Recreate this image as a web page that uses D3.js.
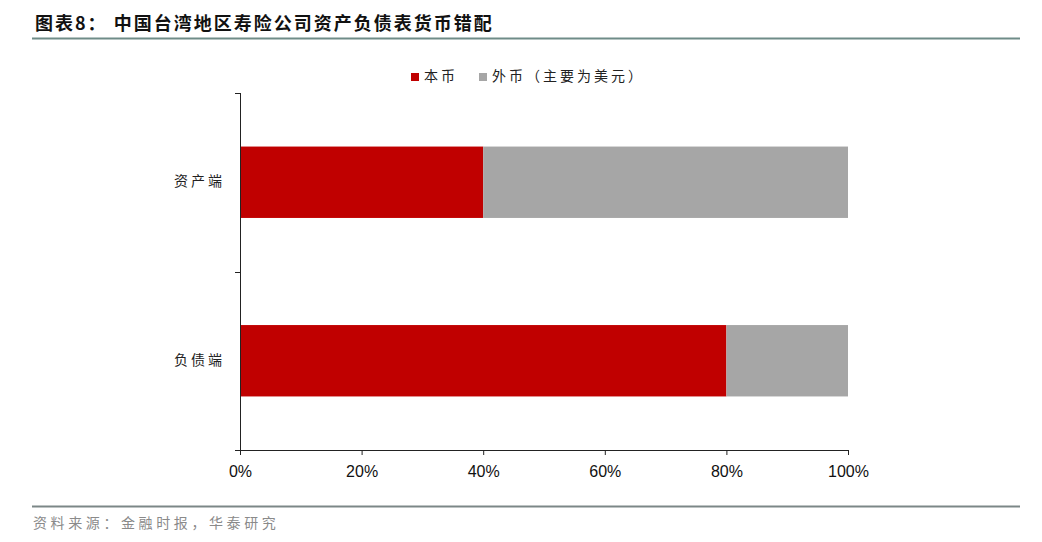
<!DOCTYPE html>
<html>

<head>
    <meta charset="UTF-8">
    <title>资产负债表货币错配</title>
    <script src="https://d3js.org/d3.v7.min.js"></script>
    <style>
        body {
            margin: 0;
            background: #fff;
        }

        .cjk {
            font-family: "Noto Sans CJK SC", sans-serif;
        }

        .title {
            font-size: 18px;
            font-weight: bold;
            letter-spacing: 2px;
            fill: #111;
        }

        .source {
            font-size: 14px;
            letter-spacing: 3.6px;
            fill: #8a8a8a;
        }

        .legend text,
        .cat {
            font-size: 14px;
            letter-spacing: 3px;
            fill: #222;
        }

        .x-axis text {
            font-family: "Liberation Sans Narrow", "Arial Narrow", "Liberation Sans", sans-serif;
            font-size: 16px;
            fill: #111;
        }

        .domain,
        .tick line {
            stroke: #222;
        }
    </style>
</head>

<body>
    <script>
        var categories = ["资产端", "负债端"];
        var seriesNames = ["本币", "外币（主要为美元）"];
        var localShare = [0.40, 0.80];
        var foreignShare = [0.60, 0.20];
        var tickValues = [0, 0.2, 0.4, 0.6, 0.8, 1.0];
        var colors = ["#c00000", "#a6a6a6"];

        var W = 1042, H = 542;
        var svg = d3.select("body").append("svg")
            .attr("width", W).attr("height", H);

        // header and footer
        svg.append("text").attr("class", "cjk title")
            .attr("x", 35).attr("y", 30)
            .text("图表8：  中国台湾地区寿险公司资产负债表货币错配");
        svg.append("line")
            .attr("x1", 32).attr("x2", 1020).attr("y1", 38.5).attr("y2", 38.5)
            .attr("stroke", "#6f8c88").attr("stroke-width", 2);
        svg.append("line")
            .attr("x1", 32).attr("x2", 1020).attr("y1", 506.5).attr("y2", 506.5)
            .attr("stroke", "#7c8787").attr("stroke-width", 2);
        svg.append("text").attr("class", "cjk source")
            .attr("x", 33).attr("y", 528)
            .text("资料来源：金融时报，华泰研究");

        var x = d3.scaleLinear().domain([0, 1]).range([240, 848]);
        var y = d3.scaleBand().domain(categories)
            .range([93, 450]).paddingInner(0.6).paddingOuter(0.3);

        var rows = categories.map(function (c, i) {
            return { cat: c, local: localShare[i], foreign: foreignShare[i] };
        });
        var stacked = d3.stack().keys(["local", "foreign"])(rows);

        svg.append("g").selectAll("g")
            .data(stacked)
            .join("g")
            .attr("fill", function (d, i) { return colors[i]; })
            .selectAll("rect")
            .data(function (d) { return d; })
            .join("rect")
            .attr("x", function (d) { return x(d[0]); })
            .attr("width", function (d) { return x(d[1]) - x(d[0]); })
            .attr("y", function (d) { return y(d.data.cat); })
            .attr("height", y.bandwidth());

        // x axis
        svg.append("g").attr("class", "x-axis")
            .attr("transform", "translate(0,450)")
            .call(d3.axisBottom(x).tickValues(tickValues)
                .tickFormat(d3.format(".0%")).tickSize(5).tickSizeOuter(0).tickPadding(10))
            .call(function (g) { g.selectAll("text").attr("dy", "0.75em"); });

        // y axis: line, boundary ticks, labels
        var yAxis = svg.append("g");
        yAxis.append("line")
            .attr("x1", 240.5).attr("x2", 240.5).attr("y1", 93).attr("y2", 450)
            .attr("stroke", "#222");
        var bounds = [y.range()[0]].concat(categories.map(function (c) {
            return y(c) + y.bandwidth() + y.step() * y.paddingInner() / 2;
        }));
        bounds[bounds.length - 1] = y.range()[1];
        yAxis.selectAll(".ytick").data(bounds).join("line")
            .attr("x1", 235).attr("x2", 240)
            .attr("y1", function (d) { return Math.round(d) + 0.5; })
            .attr("y2", function (d) { return Math.round(d) + 0.5; })
            .attr("stroke", "#222");
        yAxis.selectAll(".cat").data(categories).join("text")
            .attr("class", "cjk cat")
            .attr("x", 225)
            .attr("y", function (d) { return y(d) + y.bandwidth() / 2; })
            .attr("text-anchor", "end")
            .attr("dominant-baseline", "middle")
            .text(function (d) { return d; });

        // legend
        var legendX = [411, 479];
        var legend = svg.append("g").attr("class", "legend");
        var items = legend.selectAll("g").data(seriesNames).join("g")
            .attr("transform", function (d, i) { return "translate(" + legendX[i] + ",73)"; });
        items.append("rect").attr("width", 8).attr("height", 8)
            .attr("fill", function (d, i) { return colors[i]; });
        items.append("text").attr("class", "cjk")
            .attr("x", 13).attr("y", 4)
            .attr("dominant-baseline", "middle")
            .text(function (d) { return d; });
    </script>
</body>

</html>
